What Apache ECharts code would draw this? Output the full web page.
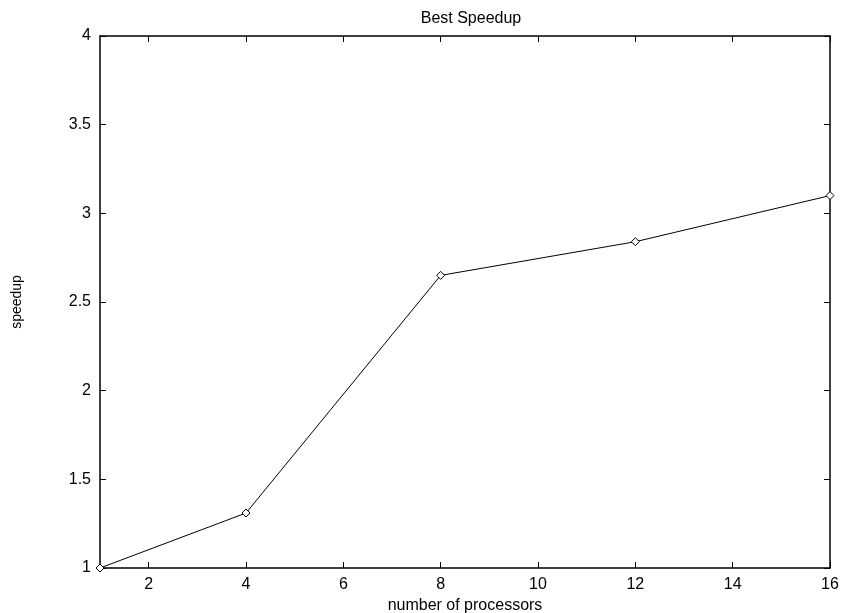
<!DOCTYPE html>
<html>
<head>
<meta charset="utf-8">
<script src="https://cdn.jsdelivr.net/npm/echarts@6/dist/echarts.min.js"></script>
<style>html,body{margin:0;padding:0;background:#fff}#c{width:841px;height:613px}</style>
</head>
<body>
<div id="c"></div>
<script>
const processors = [1, 4, 8, 12, 16];
const speedup = [1.0, 1.31, 2.65, 2.84, 3.10];
const xTicks = [2, 4, 6, 8, 10, 12, 14, 16];
const yTicks = [1, 1.5, 2, 2.5, 3, 3.5, 4];

const font = 'Liberation Sans, Arial, sans-serif';
const chart = echarts.init(document.getElementById('c'));
const axisLine = {show: true, lineStyle: {color: '#000', width: 1.5}};
chart.setOption({
  animation: false,
  title: {text: 'Best Speedup', left: 466, top: 6, textAlign: 'center',
    textStyle: {fontFamily: font, fontSize: 16, fontWeight: 'normal', color: '#000'}},
  grid: {left: 100, right: 11, top: 36, bottom: 45, containLabel: false, outerBoundsMode: 'none'},
  xAxis: [{
    type: 'value', min: 1, max: 16, position: 'bottom',
    name: 'number of processors', nameLocation: 'middle', nameGap: 25,
    nameTextStyle: {fontFamily: font, fontSize: 16, color: '#000'},
    axisLine: axisLine,
    axisTick: {show: true, inside: true, length: 6, customValues: xTicks, lineStyle: {color: '#000'}},
    axisLabel: {customValues: xTicks, fontFamily: font, fontSize: 16, color: '#000', margin: 9},
    splitLine: {show: false}
  }, {
    type: 'value', min: 1, max: 16, position: 'top',
    axisLine: axisLine,
    axisTick: {show: true, inside: true, length: 6, customValues: xTicks, lineStyle: {color: '#000'}},
    axisLabel: {show: false},
    splitLine: {show: false}
  }],
  yAxis: [{
    type: 'value', min: 1, max: 4, interval: 0.5, position: 'left',
    name: 'speedup', nameLocation: 'middle', nameGap: 76, nameRotate: 90,
    nameTextStyle: {fontFamily: font, fontSize: 14, color: '#000'},
    axisLine: axisLine,
    axisTick: {show: true, inside: true, length: 6, lineStyle: {color: '#000'}},
    axisLabel: {fontFamily: font, fontSize: 16, color: '#000', margin: 9,
      formatter: v => yTicks.includes(v) ? String(v) : ''},
    splitLine: {show: false}
  }, {
    type: 'value', min: 1, max: 4, interval: 0.5, position: 'right',
    axisLine: axisLine,
    axisTick: {show: true, inside: true, length: 6, lineStyle: {color: '#000'}},
    axisLabel: {show: false},
    splitLine: {show: false}
  }],
  series: [{
    type: 'line',
    data: processors.map((p, i) => [p, speedup[i]]),
    symbol: 'diamond', symbolSize: 8, showAllSymbol: true,
    lineStyle: {color: '#000', width: 1},
    itemStyle: {color: '#fff', borderColor: '#000', borderWidth: 1}
  }]
});
</script>
</body>
</html>
